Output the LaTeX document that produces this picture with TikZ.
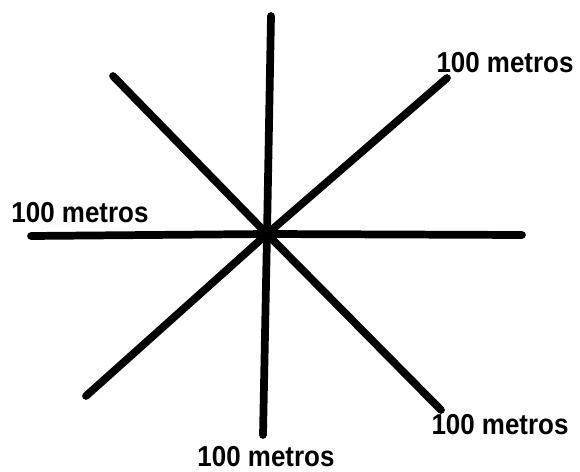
\documentclass[tikz,border=0pt]{standalone}
\usepackage{fontspec}
\setmainfont{Liberation Sans}
\usetikzlibrary{positioning}
\tikzset{
    ray/.style={
        line width=5.5pt,
        line cap=round
    },
    distlabel/.style={
        inner sep=0pt,
        xscale=0.9,
        font=\fontsize{20.5}{22}\selectfont\bfseries
    }
}

\begin{document}
\begin{tikzpicture}[x=0.025cm, y=-0.025cm]
\useasboundingbox (0,0) rectangle (580,472);

% centre and ends of the rays
\coordinate (centre) at (267,234);
\coordinate (north) at (271,16);
\coordinate (south) at (263,435);
\coordinate (west) at (31,236);
\coordinate (east) at (522,235);
\coordinate (northwest) at (113,76);
\coordinate (southeast) at (441,410);
\coordinate (southwest) at (86,396);
\coordinate (northeast) at (447,78);

% rays
\draw[ray] (centre) -- (north);
\draw[ray] (centre) -- (south);
\draw[ray] (centre) -- (west);
\draw[ray] (centre) -- (east);
\draw[ray] (centre) -- (northwest);
\draw[ray] (centre) -- (southeast);
\draw[ray] (centre) -- (southwest);
\draw[ray] (centre) -- (northeast);

% labels
\node[distlabel] (label-ne) at (505,63) {100 metros};
\node[distlabel] (label-w) at (80,213) {100 metros};
\node[distlabel] (label-se) at (500,425) {100 metros};
\node[distlabel] (label-s) at (266,457) {100 metros};
\end{tikzpicture}
\end{document}
